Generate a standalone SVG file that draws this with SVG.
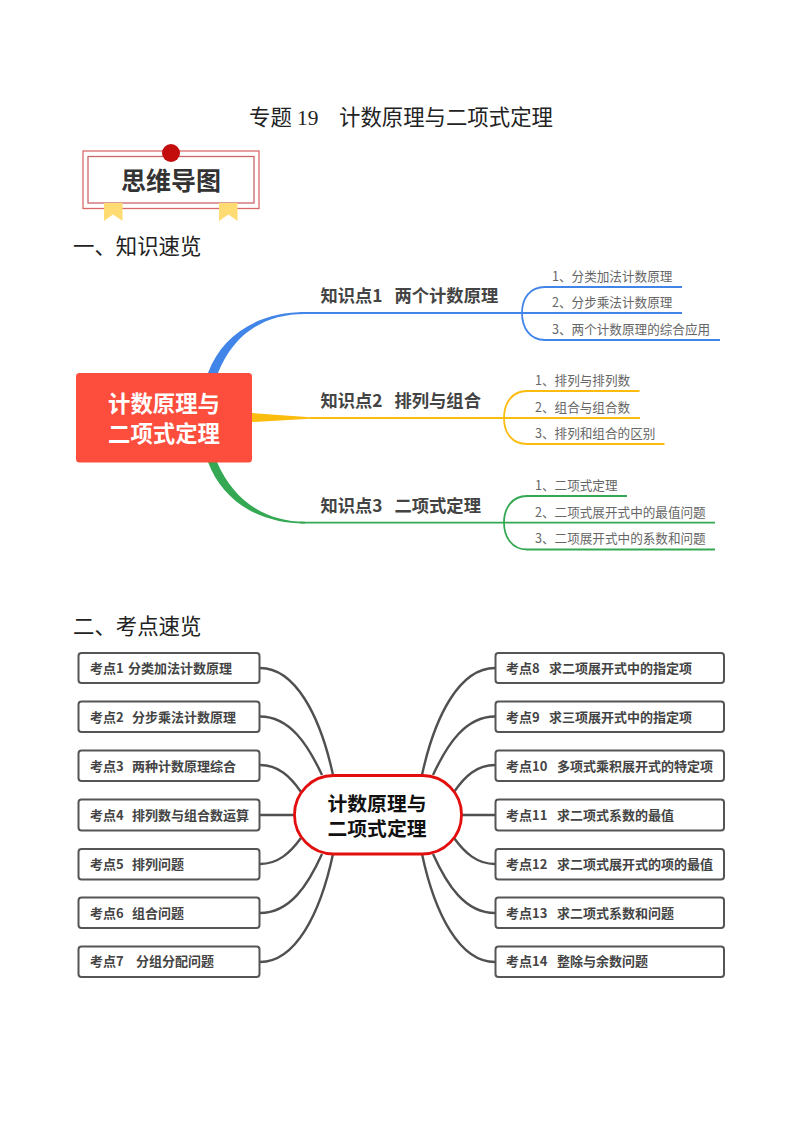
<svg xmlns="http://www.w3.org/2000/svg" width="800" height="1132" viewBox="0 0 800 1132">
<style>
text{font-family:"Noto Sans CJK SC","Noto Sans",sans-serif}
.ser{font-family:"Liberation Serif","Noto Sans CJK SC",serif}
.h{font-size:21.4px;font-weight:400;fill:#222}
.kp{font-size:17.3px;font-weight:700;fill:#444}
.sub{font-size:12.6px;fill:#666}
.ks{font-size:13px;font-weight:700;fill:#444}
.box{fill:#fff;stroke:#555;stroke-width:2}
.c{fill:none;stroke:#505050;stroke-width:2.4}
.bl{fill:none;stroke:#4285e8;stroke-width:1.8}
.ye{fill:none;stroke:#fbbc0d;stroke-width:1.8}
.gr{fill:none;stroke:#34a853;stroke-width:1.8}
</style>
<rect width="800" height="1132" fill="#fff"/>
<g id="title">
<text x="249" y="125" class="h">专题 <tspan x="297" class="ser">19</tspan> <tspan x="339">计数原理与二项式定理</tspan></text>
</g>
<g id="badge">
<rect x="83" y="151" width="176" height="57.500" fill="#fff" stroke="#d96a6a" stroke-width="1.300"/>
<rect x="88" y="156.500" width="166" height="46.500" fill="none" stroke="#c9686a" stroke-width="1.300"/>
<path d="M104 203H122.500V221L113 214.500L104 221Z M219 203H237.500V221L228.500 214.500L219 221Z" fill="#ffdc73"/>
<circle cx="171" cy="153" r="9" fill="#c30d0d"/>
<text x="171" y="190" text-anchor="middle" font-size="25" font-weight="700" fill="#333">思维导图</text>
</g>
<text id="heading1" x="73" y="254" class="h">一、知识速览</text>
<text id="heading2" x="73" y="634" class="h">二、考点速览</text>

<g id="connectors-top">
<path d="M208 373C222 335 258 312.100 305 312.100L305 313.900C265 313.900 234 333 218 373Z" fill="#4285e8"/>
<path d="M300 313H682" class="bl"/>
<path d="M252 413L310 417.200V418.800L252 422Z" fill="#fbbc0d"/>
<path d="M310 418H640" class="ye"/>
<path d="M208 462C222 500 258 523.600 305 523.600L305 521.800C267 521.800 234 502 217 462Z" fill="#34a853"/>
<path d="M300 522.700H715" class="gr"/>
<path d="M545 287H682M545 287C530 287 522 298 522 313C522 328 530 340 545 340H720" class="bl"/>
<path d="M527 391H639.500M527 391C512 391 504 403 504 418C504 433 512 444 527 444H664.500" class="ye"/>
<path d="M527 496H627M527 496C512 496 504 508 504 522.700C504 537 512 549.500 527 549.500H715" class="gr"/>
</g>

<g id="root-1">
<rect x="76" y="373" width="176" height="89.500" rx="3.500" fill="#fd4d3d"/>
<text x="164" y="412" text-anchor="middle" font-size="22.400" font-weight="700" fill="#fff">计数原理与<tspan x="164" dy="29.500">二项式定理</tspan></text>
</g>
<g id="kp1"><text x="320.500" y="302" class="kp">知识点1 <tspan x="394.500">两个计数原理</tspan></text></g>
<g id="kp2"><text x="320.500" y="407" class="kp">知识点2 <tspan x="394.500">排列与组合</tspan></text></g>
<g id="kp3"><text x="320.500" y="512" class="kp">知识点3 <tspan x="394.500">二项式定理</tspan></text></g>
<g id="kp1-subs">
<text x="552" y="281" class="sub">1、分类加法计数原理</text>
<text x="552" y="307" class="sub">2、分步乘法计数原理</text>
<text x="552" y="334" class="sub">3、两个计数原理的综合应用</text>
</g>
<g id="kp2-subs">
<text x="535" y="385" class="sub">1、排列与排列数</text>
<text x="535" y="412" class="sub">2、组合与组合数</text>
<text x="535" y="438" class="sub">3、排列和组合的区别</text>
</g>
<g id="kp3-subs">
<text x="535" y="490" class="sub">1、二项式定理</text>
<text x="535" y="517" class="sub">2、二项式展开式中的最值问题</text>
<text x="535" y="543" class="sub">3、二项展开式中的系数和问题</text>
</g>

<g id="connectors-bottom">
<path class="c" d="M260 668C295 668 320 715 333 775"/>
<path class="c" d="M260 716.500C290 716.500 308 745 322 775"/>
<path class="c" d="M260 765C278 765 290 776 301 792"/>
<path class="c" d="M260 815H294"/>
<path class="c" d="M260 864C278 864 290 853 301 838"/>
<path class="c" d="M260 913C290 913 308 885 322 854"/>
<path class="c" d="M260 962C295 962 320 915 333 854"/>
<path class="c" d="M495 668C460 668 435 715 422 775"/>
<path class="c" d="M495 716.500C465 716.500 447 745 433 775"/>
<path class="c" d="M495 765C477 765 465 776 454 792"/>
<path class="c" d="M495 815H461"/>
<path class="c" d="M495 864C477 864 465 853 454 838"/>
<path class="c" d="M495 913C465 913 447 885 433 854"/>
<path class="c" d="M495 962C460 962 435 915 422 854"/>
</g>

<g id="root-2">
<rect x="294.500" y="775.500" width="167" height="78.500" rx="39" fill="#fff" stroke="#e30f0f" stroke-width="2.800"/>
<text x="377" y="811" text-anchor="middle" font-size="19.800" font-weight="700" fill="#111">计数原理与<tspan x="377" dy="24.500">二项式定理</tspan></text>
</g>

<g id="k1"><rect class="box" x="78.500" y="653" width="181" height="30" rx="3"/><text x="90" y="673" class="ks">考点1 <tspan x="128">分类加法计数原理</tspan></text></g>
<g id="k2"><rect class="box" x="78.500" y="701.500" width="181" height="30.500" rx="3"/><text x="90" y="722" class="ks">考点2 <tspan x="132">分步乘法计数原理</tspan></text></g>
<g id="k3"><rect class="box" x="78.500" y="750.500" width="181" height="30.500" rx="3"/><text x="90" y="771" class="ks">考点3 <tspan x="132">两种计数原理综合</tspan></text></g>
<g id="k4"><rect class="box" x="78.500" y="799.500" width="181" height="31" rx="3"/><text x="90" y="820" class="ks">考点4 <tspan x="132">排列数与组合数运算</tspan></text></g>
<g id="k5"><rect class="box" x="78.500" y="849" width="181" height="30.500" rx="3"/><text x="90" y="869" class="ks">考点5 <tspan x="132">排列问题</tspan></text></g>
<g id="k6"><rect class="box" x="78.500" y="897.500" width="181" height="30.500" rx="3"/><text x="90" y="918" class="ks">考点6 <tspan x="132">组合问题</tspan></text></g>
<g id="k7"><rect class="box" x="78.500" y="946.500" width="181" height="30.500" rx="3"/><text x="90" y="966" class="ks">考点7 <tspan x="136">分组分配问题</tspan></text></g>
<g id="k8"><rect class="box" x="495.500" y="653" width="228.500" height="30" rx="3"/><text x="506" y="673" class="ks">考点8 <tspan x="549">求二项展开式中的指定项</tspan></text></g>
<g id="k9"><rect class="box" x="495.500" y="701.500" width="228.500" height="30.500" rx="3"/><text x="506" y="722" class="ks">考点9 <tspan x="549">求三项展开式中的指定项</tspan></text></g>
<g id="k10"><rect class="box" x="495.500" y="750.500" width="228.500" height="30.500" rx="3"/><text x="506" y="771" class="ks">考点10 <tspan x="557">多项式乘积展开式的特定项</tspan></text></g>
<g id="k11"><rect class="box" x="495.500" y="799.500" width="228.500" height="31" rx="3"/><text x="506" y="820" class="ks">考点11 <tspan x="557">求二项式系数的最值</tspan></text></g>
<g id="k12"><rect class="box" x="495.500" y="849" width="228.500" height="30.500" rx="3"/><text x="506" y="869" class="ks">考点12 <tspan x="557">求二项式展开式的项的最值</tspan></text></g>
<g id="k13"><rect class="box" x="495.500" y="897.500" width="228.500" height="30.500" rx="3"/><text x="506" y="918" class="ks">考点13 <tspan x="557">求二项式系数和问题</tspan></text></g>
<g id="k14"><rect class="box" x="495.500" y="946.500" width="228.500" height="30.500" rx="3"/><text x="506" y="966" class="ks">考点14 <tspan x="557">整除与余数问题</tspan></text></g>
</svg>
